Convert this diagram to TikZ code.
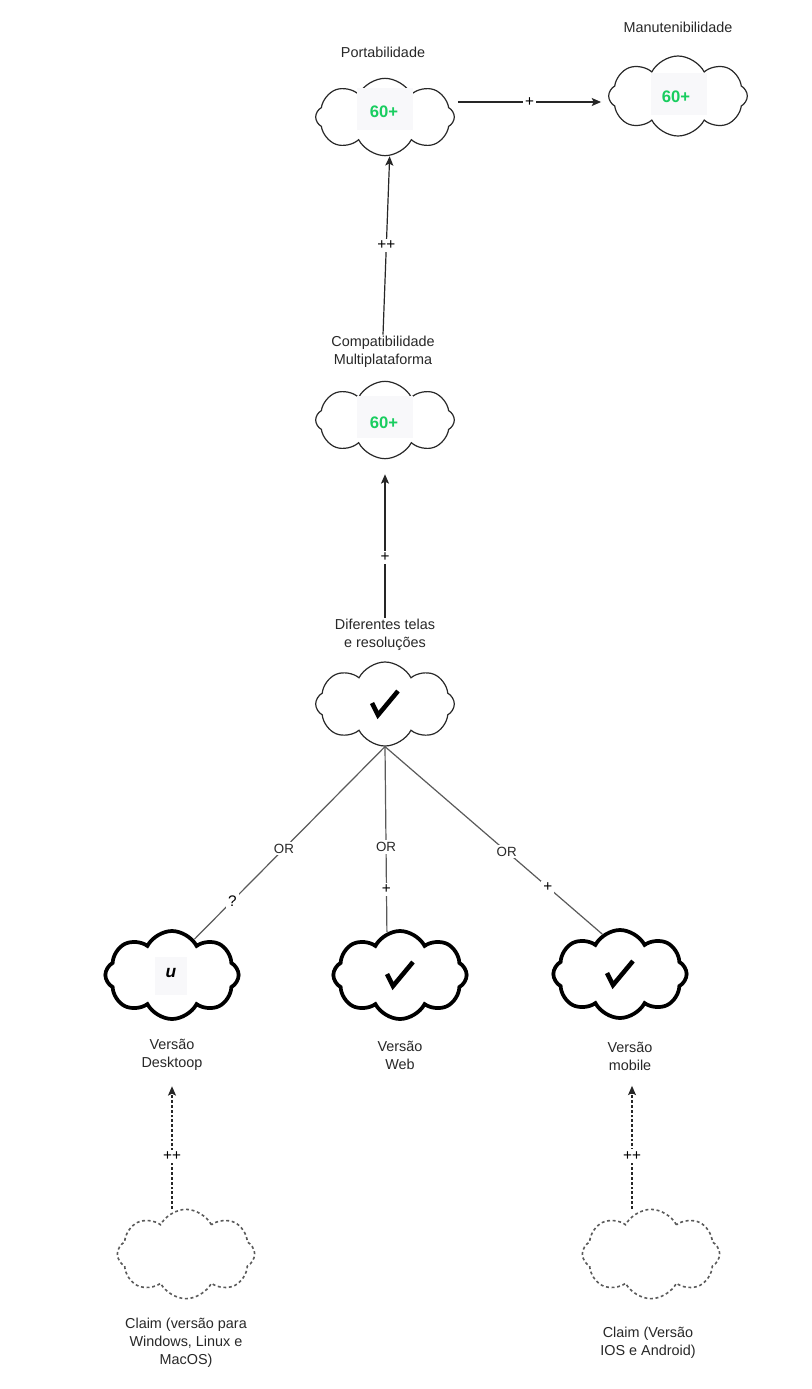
\documentclass[tikz,border=0pt]{standalone}
\usepackage{fontspec}
\setmainfont{Liberation Sans}
\usetikzlibrary{shapes.symbols,arrows.meta,calc}
\definecolor{linec}{RGB}{90,90,90}
\definecolor{txt}{RGB}{40,40,40}
\definecolor{gr}{RGB}{25,205,95}
\definecolor{iconbg}{RGB}{248,248,250}
\begin{document}
\begin{tikzpicture}[x=0.75pt,y=-0.75pt,
 cl/.style={cloud, cloud puffs=8, cloud puff arc=125, cloud ignores aspect, draw=txt, line width=0.9pt, minimum width=104pt, minimum height=58pt, inner sep=0pt},
 clthick/.style={cl, draw=black, line width=2.8pt, minimum height=66pt, minimum width=100pt},
 cldash/.style={cl, draw=linec, line width=1.2pt, dash pattern=on 2.2pt off 2pt, minimum width=103pt, minimum height=67pt},
 lbl/.style={font=\fontsize{10.8}{13.5}\selectfont, text=txt, align=center, inner sep=1pt},
 el/.style={font=\fontsize{11.5}{12}\selectfont, fill=white, inner sep=1.5pt, text=black},
 orl/.style={el, text=txt, font=\fontsize{10}{12}\selectfont},
 conn/.style={draw=linec, line width=0.9pt},
 arr/.style={conn, draw=black!85, -{Stealth[length=7pt,width=6pt,inset=1.5pt]}},
 dashedarr/.style={arr, dash pattern=on 2pt off 1.6pt},
 iconsq/.style={fill=iconbg, draw=none, minimum width=42pt, minimum height=31pt, inner sep=0pt},
 sixty/.style={text=gr, font=\fontsize{12.5}{12.5}\selectfont\bfseries, inner sep=0pt},
 chk/.pic={\draw[line width=3.4pt, line join=miter] (-13,-1) -- (-7,11) -- (13,-13);}
]
\useasboundingbox[fill=white] (0,0) rectangle (811,1389);

% clouds and labels
\node[cl] (portab) at (385,117) {};
\node[lbl] (lportab) at (383,52) {Portabilidade};
\node[cl, minimum height=60pt] (manut) at (678,96) {};
\node[lbl] (lmanut) at (678,27) {Manutenibilidade};
\node[cl] (compat) at (385,420) {};
\node[lbl] (lcompat) at (383,352) {Compatibilidade\\Multiplataforma};
\node[cl, minimum height=63pt] (dif) at (385,704) {};
\node[lbl] (ldif) at (385,635) {Diferentes telas\\e resoluções};
\node[clthick] (desk) at (172,975) {};
\node[lbl] (ldesk) at (172,1055) {Versão\\Desktoop};
\node[clthick] (web) at (400,975) {};
\node[lbl] (lweb) at (400,1055) {Versão\\Web};
\node[clthick] (mob) at (620,974) {};
\node[lbl] (lmob) at (630,1056) {Versão\\mobile};
\node[cldash] (claimd) at (186,1254) {};
\node[lbl] (lclaimd) at (186,1343) {Claim (versão para\\Windows, Linux e\\MacOS)};
\node[cldash] (claimm) at (651,1254) {};
\node[lbl] (lclaimm) at (648,1343) {Claim (Versão\\IOS e Android)};

% icons
\node[iconsq] (sq1) at (385,109) {};
\node[sixty] (g1) at (384,112) {60+};
\node[iconsq] (sq2) at (679,94) {};
\node[sixty] (g2) at (676,97) {60+};
\node[iconsq] (sq3) at (385,417) {};
\node[sixty] (g3) at (384,423) {60+};
\pic at (385,704) {chk};
\pic at (400,975) {chk};
\pic at (620,974) {chk};
\node[fill=iconbg, minimum width=24pt, minimum height=28pt, inner sep=0pt] (sq4) at (171,976) {};
\node[font=\fontsize{13}{13}\selectfont\bfseries\itshape, inner sep=0pt] (u4) at (171,973) {u};

% connectors
\coordinate (pmY) at (0,102);
\draw[arr] ($(portab.east |- pmY)+(3,0)$) -- ($(manut.west |- pmY)+(-7,0)$) node[el, midway] {+};
\draw[arr] (lcompat.north) -- ([xshift=3.5pt]portab.south) node[el, pos=0.5] {++};
\draw[arr] (ldif.north) -- ($(compat.south)+(0,15)$) node[el, pos=0.42] {+};

\draw[conn] (dif.south) -- (desk.58) node[orl, pos=0.53] {OR} node[el, pos=0.8] {?};
\draw[conn] (dif.south) -- (web.107) node[orl, pos=0.54] {OR} node[el, pos=0.77] {+};
\draw[conn] (dif.south) -- (mob.114) node[orl, pos=0.56] {OR} node[el, pos=0.75] {+};

\draw[dashedarr] (ldesk.south |- claimd.north) -- ($(ldesk.south)+(0,14)$) node[el, pos=0.43] {++};
\draw[dashedarr] ([xshift=1.5pt]lmob.south |- claimm.north) -- ($([xshift=1.5pt]lmob.south)+(0,14)$) node[el, pos=0.43] {++};
\end{tikzpicture}
\end{document}
